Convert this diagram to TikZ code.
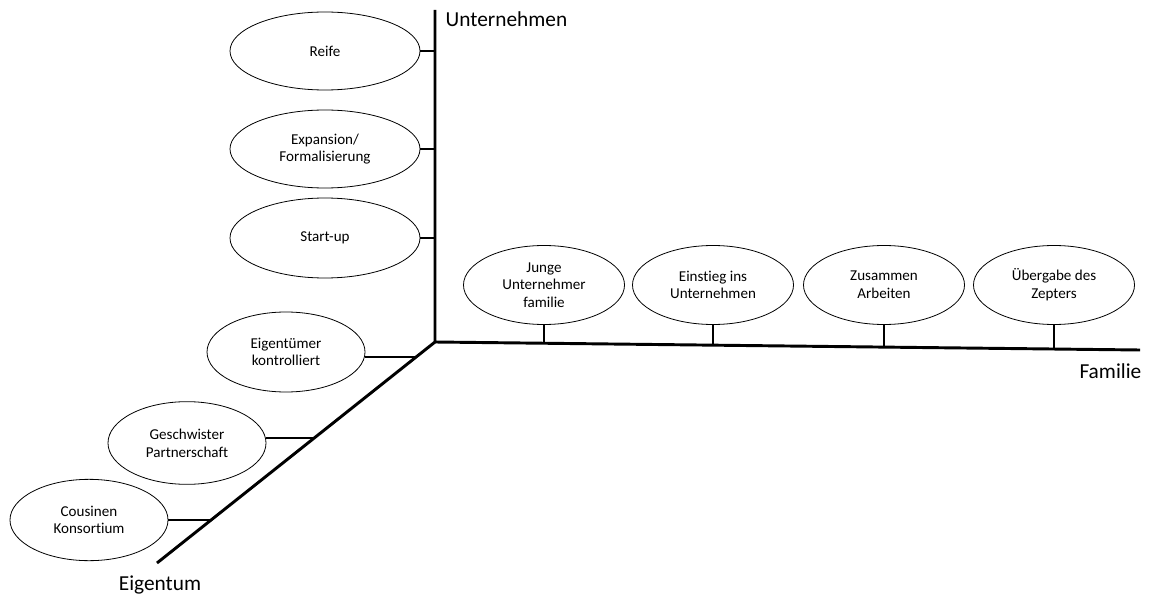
\documentclass[tikz,border=0pt]{standalone}
\usepackage{fontspec}
\setmainfont{Carlito}[Ligatures=NoCommon]
\usepackage{tikz}
\usetikzlibrary{shapes.geometric}

\tikzset{
  phase/.style={draw, ellipse, line width=0.6pt, align=center, inner sep=0pt,
    font=\fontsize{11.3}{13.3}\selectfont},
  axis/.style={line width=2.2pt},
  tick/.style={line width=2.2pt},
  axislabel/.style={font=\fontsize{16}{18}\selectfont}
}

\begin{document}
\begin{tikzpicture}[x=0.75pt,y=-0.75pt]
        \useasboundingbox (0,0) rectangle (1149,599);
        % axes
        \coordinate (o) at (435,342);
        \coordinate (utop) at (435,10);
        \coordinate (fend) at (1140,350);
        \coordinate (eend) at (157,563);
        \draw[axis] (utop) -- (o) -- (fend);
        \draw[axis] (o) -- (eend);
        \node[axislabel, anchor=west] (ulabel) at (441,19) {Unternehmen};
        \node[axislabel, anchor=east] (flabel) at (1146,371) {Familie};
        \node[axislabel] (elabel) at (160,585) {Eigentum};

        % Unternehmen
        \node[phase, minimum width=142.5pt, minimum height=58.5pt] (reife) at (325,51) {Reife};
        \node[phase, minimum width=142.5pt, minimum height=58.5pt] (expansion) at (325,149) {Expansion/\\Formalisierung};
        \node[phase, minimum width=142.5pt, minimum height=60pt] (startup) at (325,238) {Start-up};
        \draw[tick] (reife.east) -- (reife.east -| o);
        \draw[tick] (expansion.east) -- (expansion.east -| o);
        \draw[tick] (startup.east) -- (startup.east -| o);

        % Familie
        \node[phase, minimum width=120.75pt, minimum height=59.25pt] (junge) at (544,285) {Junge\\Unternehmer\\familie};
        \node[phase, minimum width=120.75pt, minimum height=59.25pt] (einstieg) at (713,285) {Einstieg ins\\Unternehmen};
        \node[phase, minimum width=120.75pt, minimum height=59.25pt] (zusammen) at (884,285) {Zusammen\\Arbeiten};
        \node[phase, minimum width=120.75pt, minimum height=59.25pt] (uebergabe) at (1054,285) {Übergabe des\\Zepters};
        \coordinate (f1) at (544,343.2);
        \coordinate (f2) at (713,345.2);
        \coordinate (f3) at (884,347.1);
        \coordinate (f4) at (1054,349.1);
        \draw[tick] (junge.south) -- (f1);
        \draw[tick] (einstieg.south) -- (f2);
        \draw[tick] (zusammen.south) -- (f3);
        \draw[tick] (uebergabe.south) -- (f4);

        % Eigentum
        \node[phase, minimum width=118.5pt, minimum height=60pt] (eigentuemer) at (286,352) {Eigentümer\\kontrolliert};
        \node[phase, minimum width=118.5pt, minimum height=62pt] (geschwister) at (187,443) {Geschwister\\Partnerschaft};
        \node[phase, minimum width=118.5pt, minimum height=61pt] (cousinen) at (89,520) {Cousinen\\Konsortium};
        \coordinate (e1) at (416,357);
        \coordinate (e2) at (314,438);
        \coordinate (e3) at (211,520);
        \draw[tick] (eigentuemer.east |- e1) -- (e1);
        \draw[tick] (geschwister.east |- e2) -- (e2);
        \draw[tick] (cousinen.east) -- (e3);
\end{tikzpicture}
\end{document}
